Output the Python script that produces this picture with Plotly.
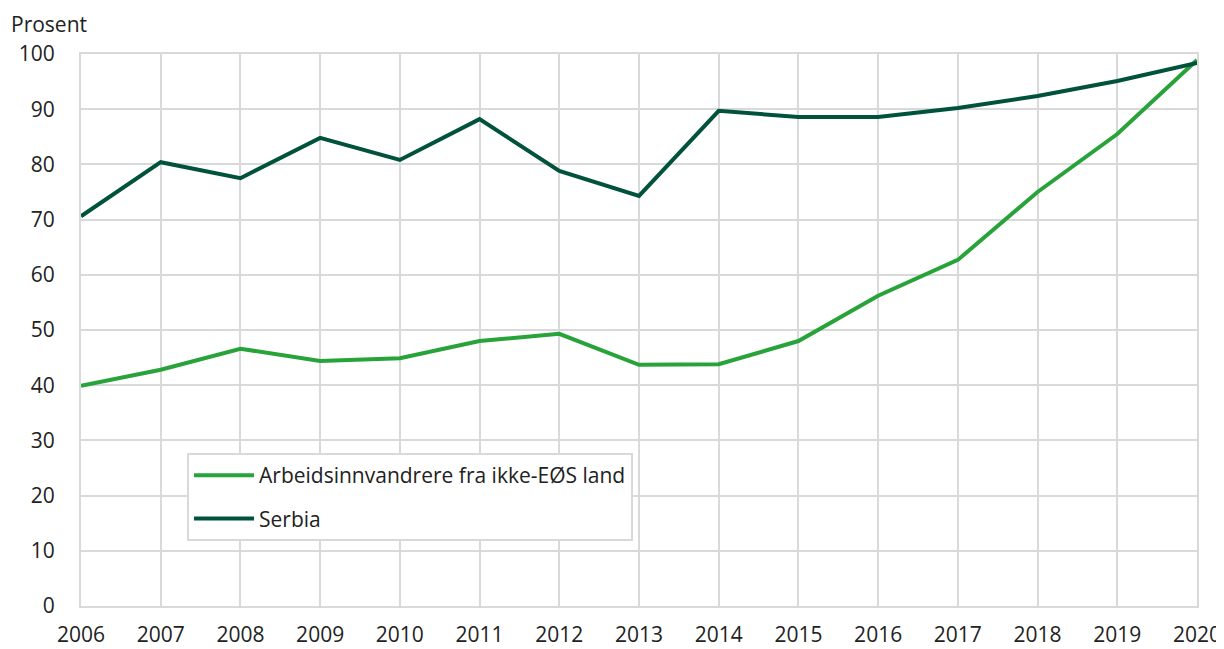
import plotly.graph_objects as go

years = list(range(2006, 2021))
arbeid = [39.9, 42.8, 46.6, 44.4, 44.9, 48.0, 49.3, 43.7, 43.8, 48.0, 56.2, 62.7, 75.0, 85.5, 98.9]
serbia = [70.6, 80.4, 77.5, 84.8, 80.8, 88.2, 78.8, 74.3, 89.7, 88.6, 88.6, 90.2, 92.4, 95.1, 98.4]
names = ["Arbeidsinnvandrere fra ikke-EØS land", "Serbia"]
colors = ["#27a33a", "#00523c"]

fig = go.Figure()
for i, (n, vals, c) in enumerate(zip(names, [arbeid, serbia], colors)):
    fig.add_trace(go.Scatter(x=years, y=vals, mode="lines", name=n,
                             legendgroup=f"g{i}",
                             line=dict(color=c, width=4)))

font = "Open Sans, Noto Sans, sans-serif"
# page body has an 8px default margin, so the figure is sized/offset to compensate
fig.update_layout(
    width=1216, height=641,
    margin=dict(l=73, r=27, t=46, b=43, autoexpand=False),
    paper_bgcolor="white", plot_bgcolor="white",
    font=dict(family=font, size=21, color="#222222"),
    showlegend=True,
    legend=dict(x=0.095, y=0.277, xanchor="left", yanchor="top",
                bgcolor="white", bordercolor="#d9d9d9", borderwidth=2,
                font=dict(size=21, color="#222222"),
                tracegroupgap=13, itemwidth=60),
)
fig.add_annotation(text="Prosent", xref="paper", yref="paper",
                   x=-0.064, y=1.0815, xanchor="left", yanchor="top",
                   borderpad=0, showarrow=False,
                   font=dict(size=21, color="#222222"))
fig.update_xaxes(range=[2006, 2020], tickmode="array", tickvals=years,
                 ticktext=[str(y) for y in years], automargin=False,
                 showgrid=True, gridcolor="#d9d9d9", gridwidth=2,
                 showline=True, linecolor="#d9d9d9", linewidth=2, mirror=True,
                 zeroline=False, ticks="", ticklabelstandoff=9, fixedrange=True)
fig.update_yaxes(range=[0, 100], tickmode="linear", tick0=0, dtick=10,
                 automargin=False,
                 showgrid=True, gridcolor="#d9d9d9", gridwidth=2,
                 showline=True, linecolor="#d9d9d9", linewidth=2, mirror=True,
                 zeroline=False, ticks="", ticklabelstandoff=20, fixedrange=True)

fig.write_html("out.html")
